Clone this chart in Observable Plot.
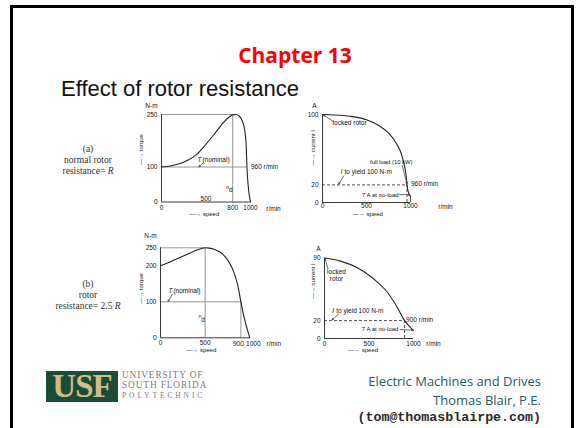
<!DOCTYPE html>
<html>
<head>
<meta charset="utf-8">
<script src="https://cdn.jsdelivr.net/npm/d3@7"></script>
<script src="https://cdn.jsdelivr.net/npm/@observablehq/plot@0.6"></script>
<style>
  html, body { margin:0; padding:0; background:#fff; }
  #slide { position:relative; width:578px; height:428px; overflow:hidden; background:#fff; }
  #frame { position:absolute; left:10px; top:5px; width:564px; height:470px; border:3px solid #000; box-sizing:border-box; }
  .abs { position:absolute; white-space:nowrap; }
  #chapter { left:0; width:590px; top:43px; text-align:center; font-family:"Open Sans", sans-serif; font-weight:700; font-size:21px; line-height:24px; color:#ff0000; }
  #subtitle { left:61px; top:78px; font-family:"Liberation Sans", Arial, sans-serif; font-size:22px; line-height:22px; color:#111; }
  .case { left:38px; width:100px; text-align:center; font-family:"Liberation Serif", "Times New Roman", serif; font-size:9.5px; line-height:11px; color:#333; }
  .credit { right:37px; text-align:right; font-family:"Open Sans", sans-serif; font-size:13px; line-height:18px; color:#1f5a60; }
  #email { font-family:"Liberation Mono", monospace; font-weight:700; font-size:13.3px; color:#2a2a2a; }
  #logoBox { left:46px; top:371px; width:72px; height:31px; background:#1b4d34; color:#cdbf8c; font-family:"Liberation Serif", serif; font-weight:700; font-size:33px; line-height:31px; text-align:center; letter-spacing:-1px; }
  .logoLine { left:122px; font-family:"Liberation Serif", serif; color:#7d7d7d; font-size:9.3px; line-height:10px; letter-spacing:0.9px; }
  .poly { font-size:7.5px; letter-spacing:2.9px; }
  .panel { position:absolute; }
  .panel svg { overflow:visible; }
</style>
</head>
<body>
<div id="slide">
  <div id="frame"></div>
  <div id="chapter" class="abs">Chapter 13</div>
  <div id="subtitle" class="abs">Effect of rotor resistance</div>
  <div class="abs case" style="top:144px">(a)<br>normal rotor<br>resistance= <i>R</i></div>
  <div class="abs case" style="top:279px">(b)<br>rotor<br>resistance= 2.5 <i>R</i></div>
  <div id="logoBox" class="abs">USF</div>
  <div class="abs logoLine" style="top:369.5px">UNIVERSITY OF</div>
  <div class="abs logoLine" style="top:380px">SOUTH FLORIDA</div>
  <div class="abs logoLine poly" style="top:390.5px">POLYTECHNIC</div>
  <div class="abs credit" style="top:372px">Electric Machines and Drives</div>
  <div class="abs credit" style="top:391px">Thomas Blair, P.E.</div>
  <div class="abs credit" style="top:407px"><span id="email">(tom@thomasblairpe.com)</span></div>
  <div id="pA1" class="panel" style="left:125px;top:98px"></div>
  <div id="pA2" class="panel" style="left:295px;top:98px"></div>
  <div id="pB1" class="panel" style="left:125px;top:228px"></div>
  <div id="pB2" class="panel" style="left:295px;top:240px"></div>
</div>
<script>
// ---------- data ----------
// (a) normal rotor resistance R : torque-speed
const speedTorqueA = [0,100,200,300,400,500,600,700,760,800,840,870,900,925,940,952,960,972,986,1000];
const torqueA      = [100,103,109,120,137,165,196,228,243,249,250,246,236,218,196,160,100,52,20,0];
// (a) current-speed
const speedCurrentA = [0,130,310,500,640,750,840,900,935,952,960,975,1000];
const currentA      = [100,99.5,98,94,87.5,79,67,54,40,29,20,12,7];
// (b) rotor resistance 2.5R : torque-speed
const speedTorqueB = [0,100,200,300,400,460,500,550,600,690,765,820,865,900,935,970,1000];
const torqueB      = [200,210,221,232,243,248,250,249,246,234,211,183,146,100,58,25,0];
// (b) current-speed
const speedCurrentB = [0,180,370,554,704,817,900,950,1000];
const currentB      = [90,86.5,79,66.5,52,35,20,14,9];

// tick labels
const torqueTicksA = [0,100,250];
const speedTicksA1 = [0,800,1000];
const currentTicksA = [0,20,100];
const speedTicksA2 = [0,500,1000];
const torqueTicksB = [0,100,200,250];
const speedTicksB1 = [0,500,900,1000];
const currentTicksB = [0,20,90];
const speedTicksB2 = [0,500,1000];

// key operating points
const peakSpeedA = 800, fullLoadSpeedA = 960, nominalTorque = 100, maxTorque = 250;
const peakSpeedB = 500, fullLoadSpeedB = 900, fullLoadCurrent = 20, noLoadCurrent = 7;

// ---------- helpers ----------
const toRows = (xs, ys) => xs.map((x, i) => ({x, y: ys[i]}));
const FONT = "Liberation Sans, Arial, Helvetica, sans-serif";
const INK = "#222";
const GRID = "#7a7a7a";
const style = {background: "transparent", fontFamily: FONT, fontSize: "6.5px", color: "#111", overflow: "visible"};
const fmt = d => String(d);
const txt = (s, o) => Plot.text([s], {text: d => d, fill: "#111", ...o});
const arr = (o) => Plot.arrow([o], {x1: "x1", y1: "y1", x2: "x2", y2: "y2", stroke: "#333", strokeWidth: 0.7, headLength: 3.5, bend: false});

// ---------- (a) torque ----------
document.getElementById("pA1").append(Plot.plot({
  width: 165, height: 120,
  marginLeft: 36, marginRight: 40, marginTop: 16, marginBottom: 16.5,
  style,
  x: {domain: [0, 1000], ticks: speedTicksA1, tickSize: 0, tickPadding: 3, tickFormat: fmt, label: null},
  y: {domain: [0, 250], ticks: torqueTicksA, tickSize: 0, tickPadding: 4, tickFormat: fmt, label: null},
  marks: [
    Plot.ruleY([maxTorque], {x1: 0, x2: peakSpeedA, stroke: GRID, strokeWidth: 0.8}),
    Plot.ruleX([peakSpeedA], {y1: 0, y2: maxTorque, stroke: GRID, strokeWidth: 0.8}),
    Plot.ruleY([nominalTorque], {x1: 0, x2: fullLoadSpeedA, stroke: GRID, strokeWidth: 0.8}),
    Plot.ruleX([0], {y1: 0, y2: maxTorque, stroke: INK, strokeWidth: 0.9}),
    Plot.ruleY([0], {x1: 0, x2: 1000, stroke: INK, strokeWidth: 0.9}),
    Plot.line(toRows(speedTorqueA, torqueA), {x: "x", y: "y", curve: "monotone-x", stroke: INK, strokeWidth: 1.1}),
    txt("N-m", {x: 0, y: maxTorque, dx: -10, dy: -9}),
    txt("—→ torque", {x: 0, y: 150, dx: -20, rotate: -90, fontSize: 6}),
    txt("T", {x: 404, y: 119, textAnchor: "start", fontStyle: "italic"}),
    txt("(nominal)", {x: 404, y: 119, dx: 5, textAnchor: "start"}),
    arr({x1: 470, y1: 112, x2: 420, y2: 101}),
    txt("960 r/min", {x: fullLoadSpeedA, y: nominalTorque, dx: 4, textAnchor: "start"}),
    txt("n", {x: peakSpeedA, y: 43, dx: -5, fontSize: 5.5}),
    txt("d", {x: peakSpeedA, y: 43, dx: -2, dy: 3}),
    txt("500", {x: 500, y: 0, dy: -3.5}),
    txt("r/min", {x: 1000, y: 0, dx: 23, dy: 6.5}),
    txt("—→ speed", {x: 480, y: 0, dy: 12, fontSize: 6})
  ]
}));

// ---------- (a) current ----------
document.getElementById("pA2").append(Plot.plot({
  width: 170, height: 120,
  marginLeft: 27, marginRight: 55, marginTop: 16, marginBottom: 16,
  style,
  x: {domain: [0, 1000], ticks: speedTicksA2, tickSize: 0, tickPadding: 1, tickFormat: fmt, label: null},
  y: {domain: [0, 100], ticks: currentTicksA, tickSize: 0, tickPadding: 4, tickFormat: fmt, label: null},
  marks: [
    Plot.ruleY([fullLoadCurrent], {x1: 0, x2: fullLoadSpeedA, stroke: INK, strokeWidth: 0.8, strokeDasharray: "3,2"}),
    Plot.ruleX([fullLoadSpeedA], {y1: 0, y2: fullLoadCurrent, stroke: INK, strokeWidth: 0.8, strokeDasharray: "3,2"}),
    Plot.ruleX([1000], {y1: 0, y2: noLoadCurrent, stroke: INK, strokeWidth: 0.8}),
    Plot.ruleX([0], {y1: 0, y2: 100, stroke: INK, strokeWidth: 0.9}),
    Plot.ruleY([0], {x1: 0, x2: 1000, stroke: INK, strokeWidth: 0.9}),
    Plot.line(toRows(speedCurrentA, currentA), {x: "x", y: "y", curve: "monotone-x", stroke: INK, strokeWidth: 1.1}),
    txt("A", {x: 0, y: 100, dx: -8, dy: -9}),
    txt("—→ current I", {x: 0, y: 62, dx: -9, rotate: -90, fontSize: 6}),
    txt("locked rotor", {x: 115, y: 90, textAnchor: "start"}),
    arr({x1: 125, y1: 92, x2: 12, y2: 99.5}),
    txt("full load (10 kW)", {x: 540, y: 45.5, textAnchor: "start", fontSize: 5.9}),
    arr({x1: 905, y1: 42, x2: 960, y2: 21.5}),
    txt("I", {x: 205, y: 35, textAnchor: "start", fontStyle: "italic"}),
    txt("to yield 100 N-m", {x: 205, y: 35, dx: 4, textAnchor: "start"}),
    arr({x1: 240, y1: 30, x2: 185, y2: 21}),
    txt("960 r/min", {x: fullLoadSpeedA, y: fullLoadCurrent, dx: 4, dy: -1, textAnchor: "start"}),
    txt("7 A at no-load", {x: 865, y: 9, textAnchor: "end", fontSize: 6}),
    arr({x1: 875, y1: 9, x2: 990, y2: 9}),
    txt("r/min", {x: 1000, y: 0, dx: 35, dy: 4}),
    txt("—→ speed", {x: 515, y: 0, dy: 11.5, fontSize: 6})
  ]
}));

// ---------- (b) torque ----------
document.getElementById("pB1").append(Plot.plot({
  width: 165, height: 130,
  marginLeft: 35, marginRight: 40.7, marginTop: 19.3, marginBottom: 20.7,
  style,
  x: {domain: [0, 1000], ticks: speedTicksB1.slice(0, 2), tickSize: 0, tickPadding: 3, tickFormat: fmt, label: null},
  y: {domain: [0, 250], ticks: torqueTicksB, tickSize: 0, tickPadding: 4, tickFormat: fmt, label: null},
  marks: [
    Plot.ruleY([maxTorque], {x1: 0, x2: peakSpeedB, stroke: GRID, strokeWidth: 0.8}),
    Plot.ruleX([peakSpeedB], {y1: 0, y2: maxTorque, stroke: GRID, strokeWidth: 0.8}),
    Plot.ruleY([nominalTorque], {x1: 0, x2: fullLoadSpeedB, stroke: GRID, strokeWidth: 0.8}),
    Plot.ruleX([fullLoadSpeedB], {y1: 0, y2: nominalTorque, stroke: GRID, strokeWidth: 0.8}),
    Plot.ruleX([0], {y1: 0, y2: maxTorque, stroke: INK, strokeWidth: 0.9}),
    Plot.ruleY([0], {x1: 0, x2: 1000, stroke: INK, strokeWidth: 0.9}),
    Plot.line(toRows(speedTorqueB, torqueB), {x: "x", y: "y", curve: "monotone-x", stroke: INK, strokeWidth: 1.1}),
    txt(fmt(speedTicksB1[2]), {x: speedTicksB1[2], y: 0, dx: -2.5, dy: 6.5}),
    txt(fmt(speedTicksB1[3]), {x: speedTicksB1[3], y: 0, dx: 3.5, dy: 6.5}),
    txt("N-m", {x: 0, y: maxTorque, dx: -10, dy: -12}),
    txt("—→ torque", {x: 0, y: 137, dx: -19, rotate: -90, fontSize: 6}),
    txt("T", {x: 89, y: 131, textAnchor: "start", fontStyle: "italic"}),
    txt("(nominal)", {x: 89, y: 131, dx: 5, textAnchor: "start"}),
    arr({x1: 133, y1: 121, x2: 85, y2: 101}),
    txt("n", {x: peakSpeedB, y: 59, dx: -5, fontSize: 5.5}),
    txt("d", {x: peakSpeedB, y: 59, dx: -2, dy: 3}),
    txt("r/min", {x: 1000, y: 0, dx: 24, dy: 6.5}),
    txt("—→ speed", {x: 456, y: 0, dy: 12, fontSize: 6})
  ]
}));

// ---------- (b) current ----------
document.getElementById("pB2").append(Plot.plot({
  width: 170, height: 120,
  marginLeft: 29, marginRight: 52, marginTop: 17.5, marginBottom: 22,
  style,
  x: {domain: [0, 1000], ticks: speedTicksB2, tickSize: 0, tickPadding: 2.5, tickFormat: fmt, label: null},
  y: {domain: [0, 90], ticks: currentTicksB, tickSize: 0, tickPadding: 4, tickFormat: fmt, label: null},
  marks: [
    Plot.ruleY([fullLoadCurrent], {x1: 0, x2: fullLoadSpeedB, stroke: INK, strokeWidth: 0.8, strokeDasharray: "3,2"}),
    Plot.ruleX([fullLoadSpeedB], {y1: 0, y2: fullLoadCurrent, stroke: INK, strokeWidth: 0.8, strokeDasharray: "3,2"}),
    Plot.ruleX([0], {y1: 0, y2: 90, stroke: INK, strokeWidth: 0.9}),
    Plot.ruleY([0], {x1: 0, x2: 1000, stroke: INK, strokeWidth: 0.9}),
    Plot.line(toRows(speedCurrentB, currentB), {x: "x", y: "y", curve: "monotone-x", stroke: INK, strokeWidth: 1.1}),
    txt("A", {x: 0, y: 90, dx: -6, dy: -9}),
    txt("—→ current I", {x: 0, y: 64, dx: -11, rotate: -90, fontSize: 6}),
    txt("locked\nrotor", {x: 135, y: 70.5, lineHeight: 1.05}),
    arr({x1: 40, y1: 78, x2: 6, y2: 89}),
    txt("I", {x: 86, y: 31, textAnchor: "start", fontStyle: "italic"}),
    txt("to yield 100 N-m", {x: 86, y: 31, dx: 4, textAnchor: "start"}),
    arr({x1: 157, y1: 27, x2: 85, y2: 21}),
    txt("900 r/min", {x: fullLoadSpeedB, y: fullLoadCurrent, dx: 1.5, dy: -1, textAnchor: "start"}),
    txt("7 A at no-load", {x: 831, y: 10, textAnchor: "end", fontSize: 6}),
    arr({x1: 850, y1: 10, x2: 990, y2: 9.5}),
    txt("r/min", {x: 1000, y: 0, dx: 20, dy: 5.5}),
    txt("—→ speed", {x: 433, y: 0, dy: 12, fontSize: 6})
  ]
}));
</script>
</body>
</html>
